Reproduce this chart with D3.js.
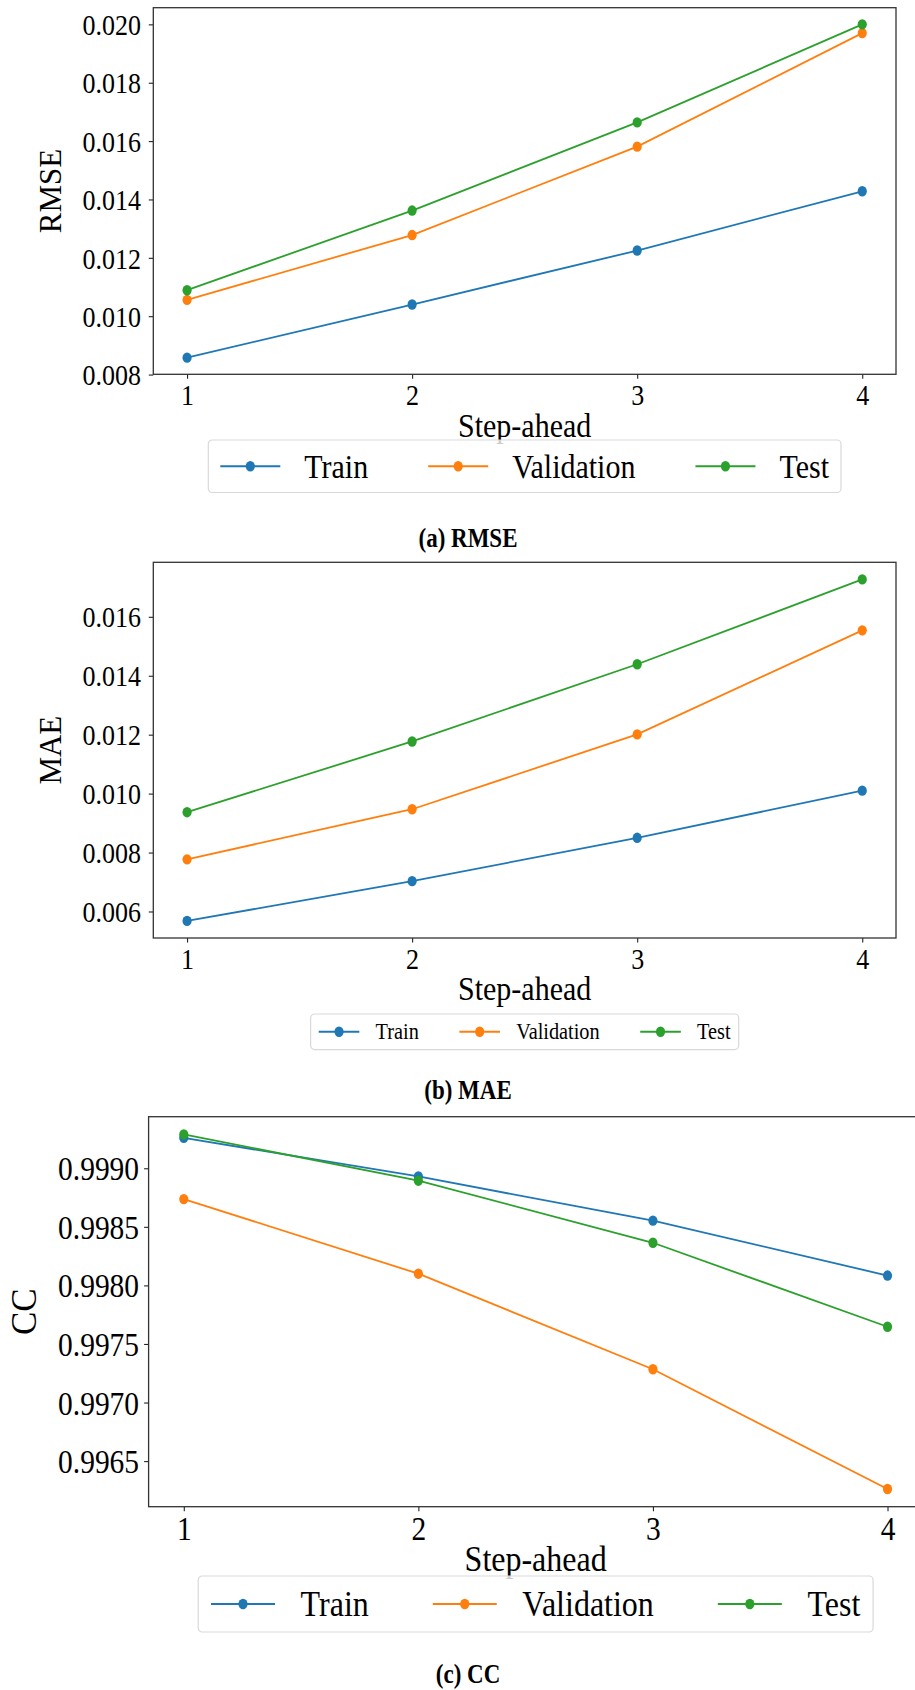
<!DOCTYPE html>
<html>
<head>
<meta charset="utf-8">
<script src="https://cdn.jsdelivr.net/npm/d3@7"></script>
<style>
  body { margin: 0; background: #fff; }
  svg text { font-family: "Liberation Serif", "Times New Roman", serif; fill: #000; }
</style>
</head>
<body>
<script>
// data
var steps = [1, 2, 3, 4];
var seriesNames = ["Train", "Validation", "Test"];
var seriesColors = ["#1f77b4", "#ff7f0e", "#2ca02c"];

var rmseTrain = [0.00858, 0.01040, 0.01225, 0.01428];
var rmseValidation = [0.01056, 0.01278, 0.01581, 0.01970];
var rmseTest = [0.01089, 0.01362, 0.01664, 0.02000];
var rmseTicks = [0.008, 0.010, 0.012, 0.014, 0.016, 0.018, 0.020];

var maeTrain = [0.00568, 0.00703, 0.00850, 0.01010];
var maeValidation = [0.00777, 0.00947, 0.01201, 0.01554];
var maeTest = [0.00937, 0.01177, 0.01439, 0.01727];
var maeTicks = [0.006, 0.008, 0.010, 0.012, 0.014, 0.016];

var ccTrain = [0.99926, 0.99893, 0.998553, 0.998084];
var ccValidation = [0.998737, 0.998100, 0.997284, 0.996262];
var ccTest = [0.999289, 0.998894, 0.998364, 0.997647];
var ccTicks = [0.9965, 0.9970, 0.9975, 0.9980, 0.9985, 0.9990];

var serif = '"Liberation Serif", "Times New Roman", serif';
var stretch = 1.15;   // the original figure is a bit taller than wide
var W = 915, H = 1690;
var svg = d3.select("body").append("svg")
  .attr("width", W).attr("height", H);

// place a text at (x,y) and stretch it vertically
function putText(sel, x, y) {
  return sel.attr("transform", "translate(" + x + "," + y + ") scale(1," + stretch + ")");
}

// one panel per metric
var panels = [
  { series: [rmseTrain, rmseValidation, rmseTest], ticks: rmseTicks, fmt: ".3f",
    yLabel: "RMSE", caption: "(a) RMSE",
    box: { left: 153.3, right: 896, top: 7.7, bottom: 374.3 },
    tickFont: 26, tickPadY: 7.8, labelFont: 30, yLabelFont: 31, yLabelX: 50, xLabelY: 425,
    legFont: 30, legTop: 440, captionY: 538 },
  { series: [maeTrain, maeValidation, maeTest], ticks: maeTicks, fmt: ".3f",
    yLabel: "MAE", caption: "(b) MAE",
    box: { left: 153.3, right: 896, top: 562.3, bottom: 938 },
    tickFont: 26, tickPadY: 7.8, labelFont: 30, yLabelFont: 31, yLabelX: 50, xLabelY: 988,
    legFont: 20.3, legTop: 1014, captionY: 1090 },
  { series: [ccTrain, ccValidation, ccTest], ticks: ccTicks, fmt: ".4f",
    yLabel: "CC", caption: "(c) CC",
    box: { left: 148.6, right: 922.7, top: 1116.7, bottom: 1506.7 },
    tickFont: 29.5, tickPadY: 5, labelFont: 32, yLabelFont: 35, yLabelX: 24, xLabelY: 1558,
    legFont: 32, legTop: 1576, captionY: 1674 }
];

panels.forEach(function(p) {
  var b = p.box;
  var g = svg.append("g");

  var x = d3.scaleLinear().domain([0.85, 4.15]).range([b.left, b.right]);

  // y range padded by 5% like matplotlib autoscale
  var ext = d3.extent(d3.merge(p.series));
  var pad = (ext[1] - ext[0]) * 0.05;
  var y = d3.scaleLinear().domain([ext[0] - pad, ext[1] + pad]).range([b.bottom, b.top]);

  // x axis
  var xa = g.append("g")
    .attr("transform", "translate(0," + b.bottom + ")")
    .call(d3.axisBottom(x).tickValues(steps).tickFormat(d3.format("d")).tickSize(4.5).tickPadding(5));
  xa.attr("font-family", serif).attr("font-size", p.tickFont);
  xa.selectAll("text")
    .style("font-family", serif).style("font-size", p.tickFont + "px")
    .attr("y", 9.5 / stretch).attr("dy", "0.71em")
    .attr("transform", "scale(1," + stretch + ")");

  // y axis
  var ya = g.append("g")
    .attr("transform", "translate(" + b.left + ",0)")
    .call(d3.axisLeft(y).tickValues(p.ticks).tickFormat(d3.format(p.fmt)).tickSize(4.5).tickPadding(p.tickPadY));
  ya.attr("font-family", serif).attr("font-size", p.tickFont);
  ya.selectAll("text")
    .style("font-family", serif).style("font-size", p.tickFont + "px")
    .attr("dy", "0.34em")
    .attr("transform", "scale(1," + stretch + ")");

  g.selectAll(".domain").remove();
  g.selectAll(".tick line").attr("stroke", "#222").attr("stroke-width", 1.1);

  // frame
  g.append("rect")
    .attr("x", b.left).attr("y", b.top)
    .attr("width", b.right - b.left).attr("height", b.bottom - b.top)
    .attr("fill", "none").attr("stroke", "#333").attr("stroke-width", 1.3);

  // lines and markers
  var line = d3.line()
    .x(function(d, i) { return x(steps[i]); })
    .y(function(d) { return y(d); });

  p.series.forEach(function(vals, k) {
    g.append("path")
      .datum(vals)
      .attr("d", line)
      .attr("fill", "none")
      .attr("stroke", seriesColors[k])
      .attr("stroke-width", 1.8);
    g.selectAll(null)
      .data(vals)
      .enter().append("ellipse")
      .attr("cx", function(d, i) { return x(steps[i]); })
      .attr("cy", function(d) { return y(d); })
      .attr("rx", 4.6).attr("ry", 5.2)
      .attr("fill", seriesColors[k]);
  });

  // axis labels
  putText(g.append("text"), (b.left + b.right) / 2, p.xLabelY)
    .attr("dy", "0.35em")
    .attr("text-anchor", "middle")
    .style("font-size", p.labelFont + "px")
    .text("Step-ahead");

  g.append("text")
    .attr("transform", "translate(" + p.yLabelX + "," + ((b.top + b.bottom) / 2) + ") rotate(-90)")
    .attr("dy", "0.35em")
    .attr("text-anchor", "middle")
    .style("font-size", p.yLabelFont + "px")
    .text(p.yLabel);

  // legend, laid out like matplotlib (units of font size)
  var f = p.legFont;
  var leg = g.append("g");
  var frame = leg.append("rect");
  var items = leg.append("g");
  var cx = 0;
  var cy = f * 0.875;
  seriesNames.forEach(function(name, k) {
    var startX = cx + 0.4 * f;
    items.append("line")
      .attr("x1", startX).attr("x2", startX + 2 * f)
      .attr("y1", cy).attr("y2", cy)
      .attr("stroke", seriesColors[k]).attr("stroke-width", 1.8);
    items.append("ellipse")
      .attr("cx", startX + f).attr("cy", cy)
      .attr("rx", 4.6).attr("ry", 5.2)
      .attr("fill", seriesColors[k]);
    var t = putText(items.append("text"), startX + 2.8 * f, cy)
      .attr("dy", "0.33em")
      .style("font-size", f + "px")
      .text(name);
    var tw = t.node().getComputedTextLength();
    cx = startX + 2.8 * f + tw + 2 * f - 0.4 * f;
  });
  var totalW = cx - 2 * f + 0.4 * f + 0.4 * f;
  var legH = 1.75 * f;
  frame.attr("x", 0).attr("y", 0).attr("width", totalW).attr("height", legH)
    .attr("rx", 4).attr("ry", 4)
    .attr("fill", "#fff").attr("fill-opacity", 0.8)
    .attr("stroke", "#d9d9d9").attr("stroke-width", 1.2);
  var midX = (b.left + b.right) / 2;
  leg.attr("transform", "translate(" + (midX - totalW / 2) + "," + p.legTop + ")");

  // caption
  putText(svg.append("text"), 468, p.captionY)
    .attr("dy", "0.35em")
    .attr("text-anchor", "middle")
    .style("font-size", "23px")
    .style("font-weight", "bold")
    .text(p.caption);
});
</script>
</body>
</html>
